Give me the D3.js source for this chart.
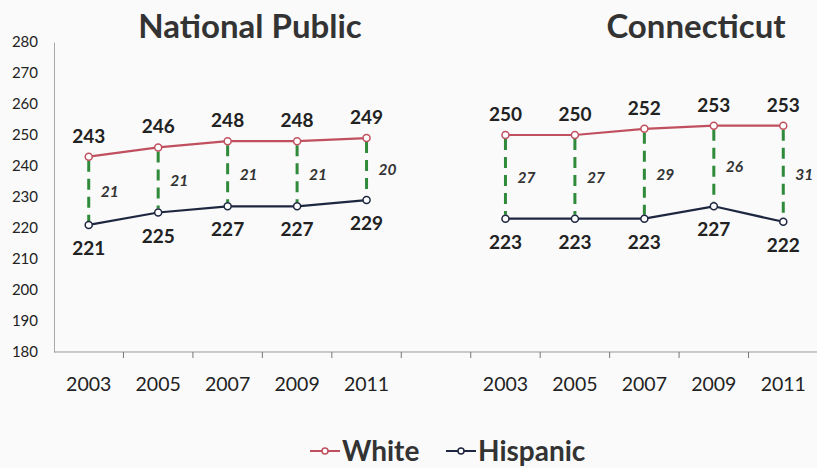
<!DOCTYPE html>
<html>
<head>
<meta charset="UTF-8">
<title>White - Hispanic gap</title>
<script src="https://cdn.jsdelivr.net/npm/d3@7"></script>
<style>
    body { margin: 0; padding: 0; background: #fafafa; }
    svg { display: block; font-family: Lato, "Open Sans", sans-serif; }
    .title { font-size: 33px; font-weight: 700; fill: #333; text-anchor: middle; }
    .ylab text { font-size: 15px; fill: #222; }
    .xlab { font-size: 19.5px; fill: #222; text-anchor: middle; }
    .val { font-size: 19px; font-weight: 700; fill: #222; text-anchor: middle; }
    .gap { font-size: 15.5px; font-weight: 700; font-style: italic; fill: #333; }
    .legend { font-size: 28px; font-weight: 700; fill: #333; }
</style>
</head>
<body>
<script>
    const years = ["2003", "2005", "2007", "2009", "2011"];
    const yTicks = [180, 190, 200, 210, 220, 230, 240, 250, 260, 270, 280];

    const natWhite = [243, 246, 248, 248, 249];
    const natHispanic = [221, 225, 227, 227, 229];
    const natGap = [21, 21, 21, 21, 20];

    const ctWhite = [250, 250, 252, 253, 253];
    const ctHispanic = [223, 223, 223, 227, 222];
    const ctGap = [27, 27, 29, 26, 31];

    const whiteColor = "#c0505f", hispColor = "#1e2740", gapColor = "#2f8a3a";

    const width = 817, height = 468;
    const svg = d3.select("body").append("svg")
        .attr("width", width)
        .attr("height", height);

    // 11 slots: 5 national, one empty, 5 connecticut
    const slots = years.map(d => "N" + d).concat(["blank"], years.map(d => "C" + d));

    const x = d3.scaleBand()
        .domain(slots)
        .range([54, 818])
        .padding(0);

    const y = d3.scaleLinear()
        .domain([180, 280])
        .range([352, 42]);

    // y axis
    svg.append("g")
        .attr("class", "ylab")
        .attr("transform", "translate(54,0)")
        .call(d3.axisLeft(y).tickValues(yTicks).tickSize(0).tickPadding(16))
        .call(g => g.select(".domain").attr("stroke", "#aaa"))
        .selectAll("text").style("font-family", "Lato, sans-serif");

    // x axis line and ticks at slot boundaries
    svg.append("line")
        .attr("x1", 54).attr("x2", 818)
        .attr("y1", y(180)).attr("y2", y(180))
        .attr("stroke", "#999");

    svg.selectAll(".xtick")
        .data(slots.slice(1).concat(["end"]))
        .join("line")
        .attr("x1", d => d === "end" ? x.range()[1] : x(d))
        .attr("x2", d => d === "end" ? x.range()[1] : x(d))
        .attr("y1", y(180)).attr("y2", y(180) + 6)
        .attr("stroke", "#777");

    svg.selectAll(".xlab")
        .data(slots.filter(d => d !== "blank"))
        .join("text")
        .attr("class", "xlab")
        .attr("x", d => x(d) + x.bandwidth() / 2)
        .attr("y", 391)
        .text(d => d.slice(1));

    // titles
    svg.append("text").attr("class", "title").attr("x", 250).attr("y", 38).text("National Public");
    svg.append("text").attr("class", "title").attr("x", 696).attr("y", 38).text("Connecticut");

    const line = d3.line()
        .x(d => x(d.key) + x.bandwidth() / 2)
        .y(d => y(d.v));

    function drawPanel(prefix, white, hisp, gap) {
        const w = years.map((yr, i) => ({key: prefix + yr, v: white[i]}));
        const h = years.map((yr, i) => ({key: prefix + yr, v: hisp[i]}));
        const g = svg.append("g");

        // dashed gap lines
        g.selectAll(".gapline")
            .data(years)
            .join("line")
            .attr("x1", (d, i) => x(w[i].key) + x.bandwidth() / 2)
            .attr("x2", (d, i) => x(w[i].key) + x.bandwidth() / 2)
            .attr("y1", (d, i) => y(white[i]) + 4)
            .attr("y2", (d, i) => y(hisp[i]) - 4)
            .attr("stroke", gapColor)
            .attr("stroke-width", 3)
            .attr("stroke-dasharray", "11,7");

        g.selectAll(".gaplab")
            .data(gap)
            .join("text")
            .attr("class", "gap")
            .attr("x", (d, i) => x(w[i].key) + x.bandwidth() / 2 + 12)
            .attr("y", (d, i) => (y(white[i]) + y(hisp[i])) / 2 + 6)
            .text(d => d);

        [[w, whiteColor, -14], [h, hispColor, 30]].forEach(([data, color, off]) => {
            g.append("path")
                .datum(data)
                .attr("d", line)
                .attr("fill", "none")
                .attr("stroke", color)
                .attr("stroke-width", 2.2);

            g.selectAll(null)
                .data(data)
                .join("circle")
                .attr("cx", d => x(d.key) + x.bandwidth() / 2)
                .attr("cy", d => y(d.v))
                .attr("r", 3.5)
                .attr("fill", "#fff")
                .attr("stroke", color)
                .attr("stroke-width", 1.5);

            g.selectAll(null)
                .data(data)
                .join("text")
                .attr("class", "val")
                .attr("x", d => x(d.key) + x.bandwidth() / 2)
                .attr("y", d => y(d.v) + off)
                .text(d => d.v);
        });
    }

    drawPanel("N", natWhite, natHispanic, natGap);
    drawPanel("C", ctWhite, ctHispanic, ctGap);

    // legend
    const legend = [{name: "White", color: whiteColor, x: 310}, {name: "Hispanic", color: hispColor, x: 446}];
    const lg = svg.append("g");
    legend.forEach(l => {
        lg.append("line")
            .attr("x1", l.x).attr("x2", l.x + 30)
            .attr("y1", 451).attr("y2", 451)
            .attr("stroke", l.color).attr("stroke-width", 2);
        lg.append("circle")
            .attr("cx", l.x + 15).attr("cy", 451).attr("r", 3)
            .attr("fill", "#fff").attr("stroke", l.color).attr("stroke-width", 1.5);
        lg.append("text")
            .attr("class", "legend")
            .attr("x", l.x + 32).attr("y", 461)
            .text(l.name);
    });
</script>
</body>
</html>
